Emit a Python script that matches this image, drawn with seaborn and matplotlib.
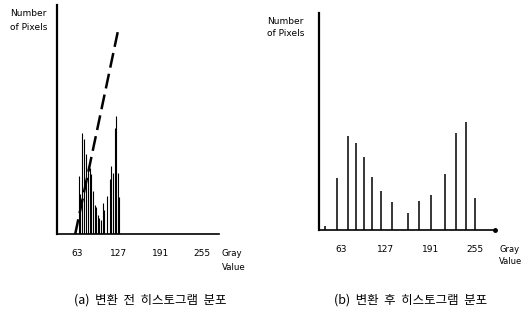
import matplotlib
matplotlib.use("Agg")
import matplotlib.pyplot as plt
import seaborn as sns

sns.set_style("white")
plt.rcParams['font.family'] = ['DejaVu Sans', 'Noto Sans CJK KR']
plt.rcParams['text.color'] = 'black'
plt.rcParams['xtick.color'] = 'black'
plt.rcParams['xtick.labelcolor'] = 'black'

# histogram before transform (gray value, count)
GRAY_A = [66, 68, 71, 74, 77, 79, 82, 85, 87, 90, 92, 95, 97, 100, 103, 105,
          109, 113, 115, 118, 121, 123, 125, 127]
COUNT_A = [58, 40, 101, 95, 80, 68, 66, 60, 43, 29, 27, 19, 16, 14, 31, 24,
           38, 55, 68, 61, 106, 118, 61, 37]

# dashed cumulative line
LINE_X = [60, 126]
LINE_Y = [0, 204]

# histogram after transform
GRAY_B = [40, 58, 73, 85, 96, 108, 120, 136, 159, 175, 192, 211, 227, 242, 255]
COUNT_B = [4, 52, 94, 87, 73, 53, 39, 28, 17, 29, 35, 56, 97, 108, 32]

TICKS = [63, 127, 191, 255]
CAPTIONS = ['(a)  변환  전  히스토그램  분포', '(b)  변환  후  히스토그램  분포']

fig = plt.figure(figsize=(5.23, 3.25), dpi=100)

ax1 = fig.add_axes([57/523, 91/325, 162/523, 229/325])
ax2 = fig.add_axes([319/523, 95/325, 176/523, 217/325])

# left panel bars
ax1.vlines(GRAY_A, 0, COUNT_A, color='black', linewidth=0.8)
sns.lineplot(x=LINE_X, y=LINE_Y, ax=ax1, color='black', linewidth=1.8,
             linestyle=(0, (6, 2.5)))
ax1.set_xlim(32, 281)
ax1.set_ylim(0, 229)

# right panel bars
ax2.vlines(GRAY_B, 0, COUNT_B, color='black', linewidth=1.1)
ax2.plot([283], [0], marker='o', markersize=2.5, color='black', clip_on=False)
ax2.set_xlim(32, 283)
ax2.set_ylim(0, 217)

for ax in (ax1, ax2):
    for s in ('top', 'right'):
        ax.spines[s].set_visible(False)
    ax.spines['left'].set_linewidth(1.6)
    ax.spines['bottom'].set_linewidth(1.2)
    ax.spines['left'].set_color('black')
    ax.spines['bottom'].set_color('black')
    ax.set_xticks(TICKS)
    ax.set_xticklabels([str(t) for t in TICKS])
    ax.set_yticks([])
    ax.tick_params(axis='x', direction='out', length=4, width=1, color='black',
                   labelsize=6.5, pad=7)
    ax.set_xlabel('')
    ax.set_ylabel('')

fig.text(10/523, 1 - 14/325, 'Number', fontsize=6.5, va='center', ha='left')
fig.text(10/523, 1 - 27/325, 'of Pixels', fontsize=6.5, va='center', ha='left')
fig.text(267/523, 1 - 22/325, 'Number', fontsize=6.5, va='center', ha='left')
fig.text(267/523, 1 - 34/325, 'of Pixels', fontsize=6.5, va='center', ha='left')

fig.text(222/523, 1 - 253/325, 'Gray', fontsize=6.2, va='center', ha='left')
fig.text(222/523, 1 - 267/325, 'Value', fontsize=6.2, va='center', ha='left')
fig.text(499/523, 1 - 249/325, 'Gray', fontsize=6, va='center', ha='left')
fig.text(499/523, 1 - 261/325, 'Value', fontsize=6, va='center', ha='left')

fig.text(150/523, 1 - 300/325, CAPTIONS[0], fontsize=9,
         family=['Noto Sans CJK KR', 'DejaVu Sans'], ha='center', va='center')
fig.text(411/523, 1 - 300/325, CAPTIONS[1], fontsize=9,
         family=['Noto Sans CJK KR', 'DejaVu Sans'], ha='center', va='center')

fig.savefig('out.png', dpi=100)
